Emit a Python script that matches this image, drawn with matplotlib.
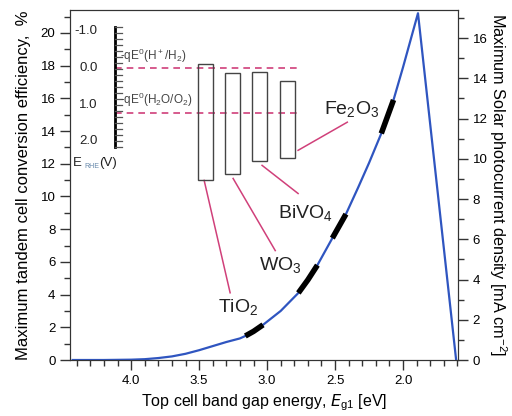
import matplotlib
matplotlib.use('Agg')
import matplotlib.pyplot as plt
import numpy as np

plt.rcParams['font.family'] = ['Liberation Sans', 'DejaVu Sans']
plt.rcParams['mathtext.default'] = 'regular'

# efficiency curve (top cell band gap in eV vs max tandem efficiency in %)
eg = [4.43, 4.2, 4.0, 3.9, 3.8, 3.7, 3.6, 3.5, 3.4, 3.3, 3.2, 3.16, 3.1, 3.03,
      2.9, 2.77, 2.7, 2.63, 2.52, 2.42, 2.33, 2.25, 2.16, 2.07, 2.0, 1.95, 1.89, 1.61]
eff = [0.0, 0.0, 0.02, 0.05, 0.12, 0.22, 0.38, 0.6, 0.85, 1.1, 1.32, 1.47, 1.75, 2.15,
       3.0, 4.1, 4.9, 5.8, 7.45, 8.92, 10.55, 12.05, 13.85, 15.9, 17.9, 19.4, 21.2, 0.05]

# semiconductors: band gap range on the curve, band edges vs RHE
materials = ['TiO$_2$', 'WO$_3$', 'BiVO$_4$', 'Fe$_2$O$_3$']
gap_hi = [3.16, 2.77, 2.52, 2.16]
gap_lo = [3.03, 2.63, 2.42, 2.07]
cb = [-0.1, 0.13, 0.1, 0.35]
vb = [3.05, 2.88, 2.55, 2.45]

# photocurrent = efficiency / 1.23 V
v_water = 1.23

eg = np.array(eg)
eff = np.array(eff)

# E_RHE (V) -> left axis units
def to_pct(v):
    return 17.85 - 2.24 * np.asarray(v)

fig = plt.figure(figsize=(5.12, 4.16), dpi=100)
ax = fig.add_axes([0.1367, 0.1346, 0.758, 0.8414])

ax.plot(eg, eff, color='#2f55c0', lw=1.6, zorder=3)
for hi, lo in zip(gap_hi, gap_lo):
    m = (eg <= hi + 1e-9) & (eg >= lo - 1e-9)
    ax.plot(eg[m], eff[m], color='black', lw=4, solid_capstyle='butt', zorder=4)

# inset E_RHE scale
sx = 4.12
ax.plot([sx, sx], to_pct([-1.12, 2.16]), color='black', lw=2, zorder=3)
for v in np.linspace(-1.12, 2.16, 21):
    ax.plot([sx - 0.055, sx], [to_pct(v)] * 2, color='#555555', lw=0.9, zorder=3)
for v in [-1.0, 0.0, 1.0, 2.0]:
    ax.text(4.245, to_pct(v), '%.1f' % v, ha='right', va='center', fontsize=9.5, color='#222222')
ax.text(4.43, to_pct(2.6), 'E', ha='left', va='center', fontsize=9.5, color='#222222')
ax.text(4.345, to_pct(2.68), 'RHE', ha='left', va='center', fontsize=5, color='#6688aa')
ax.text(4.235, to_pct(2.6), '(V)', ha='left', va='center', fontsize=9.5, color='#222222')

ax.plot([sx, 2.757], [to_pct(0)] * 2, color='#d0407a', lw=1.2, ls=(0, (4, 3)), zorder=2)
ax.plot([sx, 2.757], [to_pct(v_water)] * 2, color='#d0407a', lw=1.2, ls=(0, (4, 3)), zorder=2)
ax.text(4.08, to_pct(-0.32), '-qE$^0$(H$^+$/H$_2$)', ha='left', va='center', fontsize=8.5, color='#444444')
ax.text(4.08, to_pct(0.88), '-qE$^0$(H$_2$O/O$_2$)', ha='left', va='center', fontsize=8.5, color='#444444')

# band edge boxes
box_x = [3.452, 3.254, 3.055, 2.849]
for xc, c, v in zip(box_x, cb, vb):
    ax.add_patch(plt.Rectangle((xc + 0.055, to_pct(v)), -0.11, to_pct(c) - to_pct(v),
                               fill=False, ec='#444444', lw=1.0, zorder=3))

# leader lines and labels
lead_x0 = [3.463, 3.25, 3.037, 2.772]
lead_y0 = [10.98, 11.1, 11.9, 12.82]
lead_x1 = [3.272, 2.94, 2.772, 2.41]
lead_y1 = [4.11, 6.69, 10.18, 14.54]
lab_x = [3.213, 2.904, 2.72, 2.375]
lab_y = [3.25, 5.83, 8.96, 15.34]
for i, name in enumerate(materials):
    ax.plot([lead_x0[i], lead_x1[i]], [lead_y0[i], lead_y1[i]], color='#d0407a', lw=1.1, zorder=2)
    ax.text(lab_x[i], lab_y[i], name, ha='center', va='center', fontsize=14, color='#222222')

ax.set_xlim(4.45, 1.595)
ax.set_ylim(0, 21.4)
ax.set_xticks([4.0, 3.5, 3.0, 2.5, 2.0])
ax.set_xticks(np.arange(1.6, 4.45, 0.1), minor=True)
ax.set_yticks(range(0, 21, 2))
ax.set_yticks(range(0, 22), minor=True)
ax.tick_params(which='major', length=7, width=1, labelsize=9.5, color='#333333')
ax.tick_params(which='minor', length=4, width=1, color='#333333')
ax.set_ylabel('Maximum tandem cell conversion efficiency,  %', fontsize=12, labelpad=7)
ax.set_xlabel('Top cell band gap energy, $\\mathit{E}_{g1}$ [eV]', fontsize=11.5)
for s in ax.spines.values():
    s.set_color('#333333')

ax2 = ax.twinx()
ax2.set_ylim(0, 21.4 / v_water)
ax2.set_yticks(range(0, 17, 2))
ax2.set_yticks(range(0, 18), minor=True)
ax2.tick_params(which='major', length=7, width=1, labelsize=9.5, color='#333333')
ax2.tick_params(which='minor', length=4, width=1, color='#333333')
ax2.set_ylabel('Maximum Solar photocurrent density [mA cm$^{-2}$]', fontsize=11.7,
               rotation=270, labelpad=15)
for s in ax2.spines.values():
    s.set_color('#333333')

fig.savefig('out.png', dpi=100)
